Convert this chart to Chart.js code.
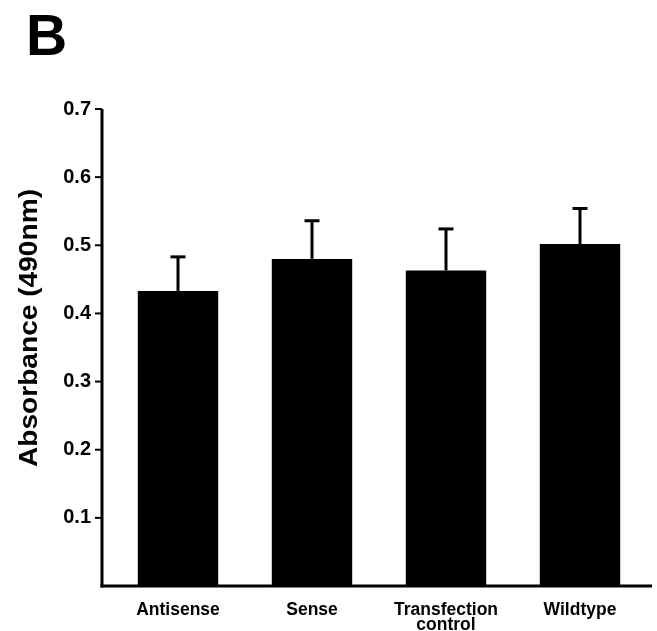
<!DOCTYPE html>
<html>
<head>
<meta charset="utf-8">
<script src="https://cdn.jsdelivr.net/npm/chart.js@4.4.1/dist/chart.umd.min.js"></script>
<style>
  html, body { margin: 0; padding: 0; background: #fff; }
  #wrap { width: 657px; height: 631px; position: relative; }
</style>
</head>
<body>
<div id="wrap"><canvas id="c" width="657" height="631"></canvas></div>
<script>
const categories = [['Antisense'], ['Sense'], ['Transfection', 'control'], ['Wildtype']];
const means = [0.433, 0.480, 0.463, 0.502];
const errors = [0.050, 0.056, 0.061, 0.052];
const yTicks = [0.1, 0.2, 0.3, 0.4, 0.5, 0.6, 0.7];
const panelLabel = 'B';
const yTitle = 'Absorbance (490nm)';

const FONT = "'Liberation Sans', Arial, Helvetica, sans-serif";

const axesPlugin = {
  id: 'axesPlugin',
  afterDraw(chart) {
    const ctx = chart.ctx;
    const ys = chart.scales.y, xs = chart.scales.x;
    const axisX = 102;
    const y0 = ys.getPixelForValue(0);
    const yMax = ys.getPixelForValue(yTicks[yTicks.length - 1]);
    ctx.save();
    ctx.strokeStyle = '#000';
    ctx.lineCap = 'butt';
    // error bars (upper only)
    ctx.lineWidth = 3;
    means.forEach((m, i) => {
      const xc = xs.getPixelForValue(i);
      const yt = ys.getPixelForValue(m + errors[i]);
      const yb = ys.getPixelForValue(m);
      ctx.beginPath();
      ctx.moveTo(xc, yb);
      ctx.lineTo(xc, yt);
      ctx.stroke();
      ctx.beginPath();
      ctx.moveTo(xc - 7.5, yt);
      ctx.lineTo(xc + 7.5, yt);
      ctx.stroke();
    });
    // axes
    ctx.lineWidth = 3;
    ctx.beginPath();
    ctx.moveTo(axisX, yMax);
    ctx.lineTo(axisX, y0 + 1.5);
    ctx.stroke();
    ctx.beginPath();
    ctx.moveTo(axisX - 1.5, y0);
    ctx.lineTo(652, y0);
    ctx.stroke();
    // tick marks
    ctx.lineWidth = 2;
    yTicks.forEach(v => {
      const yy = ys.getPixelForValue(v);
      ctx.beginPath();
      ctx.moveTo(95, yy);
      ctx.lineTo(axisX, yy);
      ctx.stroke();
    });
    // panel label
    ctx.fillStyle = '#000';
    ctx.font = 'bold 57px ' + FONT;
    ctx.textAlign = 'left';
    ctx.textBaseline = 'alphabetic';
    ctx.fillText(panelLabel, 26, 55);
    // y title
    ctx.font = 'bold 25px ' + FONT;
    const w = ctx.measureText(yTitle).width;
    const sx = 278 / w;
    ctx.translate(30, 328);
    ctx.rotate(-Math.PI / 2);
    ctx.scale(sx, 1);
    ctx.textAlign = 'center';
    ctx.textBaseline = 'middle';
    ctx.fillText(yTitle, 0, 0);
    ctx.restore();
  }
};

new Chart(document.getElementById('c'), {
  type: 'bar',
  data: {
    labels: categories,
    datasets: [{
      data: means,
      backgroundColor: '#000',
      borderWidth: 0,
      barPercentage: 0.6,
      categoryPercentage: 1.0
    }]
  },
  options: {
    responsive: false,
    animation: false,
    layout: { padding: { top: 109, right: 10, bottom: 0, left: 0 } },
    plugins: { legend: { display: false }, tooltip: { enabled: false }, title: { display: false } },
    scales: {
      x: {
        grid: { display: false },
        border: { display: false },
        ticks: {
          color: '#000',
          padding: 8,
          maxRotation: 0,
          autoSkip: false,
          font: { family: FONT, size: 17.5, weight: 'bold', lineHeight: 0.9 }
        },
        afterFit(scale) { scale.height = 45; }
      },
      y: {
        min: 0,
        max: 0.7,
        grid: { display: false },
        border: { display: false },
        ticks: {
          stepSize: 0.1,
          color: '#000',
          padding: 12,
          font: { family: FONT, size: 20, weight: 'bold' },
          callback: (v) => (v > 0.0001 ? Number(v).toFixed(1) : '')
        },
        afterFit(scale) { scale.width = 111; }
      }
    }
  },
  plugins: [axesPlugin]
});
</script>
</body>
</html>
